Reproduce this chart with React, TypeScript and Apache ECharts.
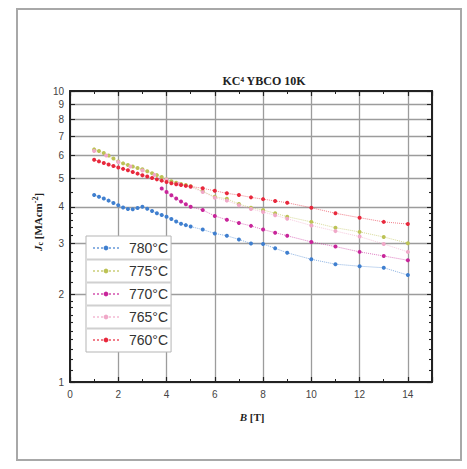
import React, { useEffect, useRef } from "react";
import * as echarts from "echarts";

// ---- data ----
const seriesNames = ["780°C", "775°C", "770°C", "765°C", "760°C"];
const seriesColors = ["#3f7fcf", "#bcc255", "#c8259a", "#f0a8c8", "#e8283c"];

const B780 = [1.0, 1.2, 1.4, 1.6, 1.8, 2.0, 2.2, 2.4, 2.6, 2.8, 3.0, 3.2, 3.4, 3.6, 3.8, 4.0, 4.2, 4.4, 4.6, 4.8, 5.0, 5.5, 6, 6.5, 7, 7.5, 8, 8.5, 9, 10, 11, 12, 13, 14];
const J780 = [4.39, 4.33, 4.27, 4.2, 4.12, 4.05, 3.98, 3.93, 3.92, 3.96, 4.0, 3.94, 3.87, 3.8, 3.75, 3.7, 3.63, 3.56, 3.5, 3.46, 3.42, 3.34, 3.24, 3.18, 3.09, 2.99, 2.98, 2.88, 2.78, 2.64, 2.54, 2.5, 2.47, 2.33];

const B775 = [1.0, 1.2, 1.4, 1.6, 1.8, 2.0, 2.2, 2.4, 2.6, 2.8, 3.0, 3.2, 3.4, 3.6, 3.8, 4.0, 4.2, 4.4, 4.6, 4.8, 5.0, 5.5, 6, 6.5, 7, 7.5, 8, 8.5, 9, 10, 11, 12, 13, 14];
const J775 = [6.3, 6.22, 6.12, 6.0, 5.86, 5.72, 5.64, 5.57, 5.5, 5.44, 5.38, 5.3, 5.22, 5.14, 5.06, 4.97, 4.9, 4.84, 4.79, 4.75, 4.71, 4.52, 4.33, 4.26, 4.09, 3.97, 3.9, 3.8, 3.7, 3.55, 3.39, 3.28, 3.15, 3.0];

const B770 = [3.8, 4.0, 4.2, 4.4, 4.6, 4.8, 5.0, 5.5, 6, 6.5, 7, 7.5, 8, 8.5, 9, 10, 11, 12, 13, 14];
const J770 = [4.62, 4.5, 4.38, 4.27, 4.17, 4.08, 4.0, 3.9, 3.72, 3.61, 3.52, 3.44, 3.34, 3.26, 3.18, 3.03, 2.92, 2.8, 2.71, 2.62];

const B765 = [1.0, 1.5, 2.0, 2.5, 3.0, 3.5, 4.0, 4.5, 5.0, 5.5, 6, 6.5, 7, 7.5, 8, 8.5, 9, 10, 11, 12, 13, 14];
const J765 = [6.22, 6.0, 5.7, 5.5, 5.33, 5.15, 4.96, 4.8, 4.68, 4.5, 4.3, 4.2, 4.05, 3.93, 3.84, 3.74, 3.64, 3.45, 3.3, 3.16, 2.98, 2.8];

const B760 = [1.0, 1.2, 1.4, 1.6, 1.8, 2.0, 2.2, 2.4, 2.6, 2.8, 3.0, 3.2, 3.4, 3.6, 3.8, 4.0, 4.2, 4.4, 4.6, 4.8, 5.0, 5.5, 6, 6.5, 7, 7.5, 8, 8.5, 9, 10, 11, 12, 13, 14];
const J760 = [5.8, 5.73, 5.66, 5.59, 5.52, 5.46, 5.4, 5.34, 5.27, 5.2, 5.13, 5.08, 5.02, 4.97, 4.92, 4.87, 4.82, 4.78, 4.75, 4.72, 4.7, 4.63, 4.54, 4.45, 4.39, 4.31, 4.25, 4.19, 4.13, 3.97, 3.8, 3.67, 3.55, 3.49];

const allB = [B780, B775, B770, B765, B760];
const allJ = [J780, J775, J770, J765, J760];

const yMajorTicks = [1, 2, 3, 4, 5, 6, 7, 8, 9, 10];
const yMinorTicks = [1.1, 1.2, 1.3, 1.4, 1.5, 1.6, 1.7, 1.8, 1.9, 2.2, 2.4, 2.6, 2.8, 3.2, 3.4, 3.6, 3.8, 4.5];

const GRID = { left: 70, top: 91, right: 35, bottom: 87 };

export default function App() {
  const ref = useRef<HTMLDivElement>(null);
  useEffect(() => {
    if (!ref.current) return;
    const chart = echarts.init(ref.current, undefined, { renderer: "svg" });
    const axisLine = { show: true, lineStyle: { color: "#222", width: 2 } };
    const tickLbl = { color: "#444", fontSize: 10, fontFamily: "Liberation Sans, Arial, sans-serif" };
    const xBase = (pos: string, labels: boolean, split: boolean) => ({
      type: "value",
      position: pos,
      min: 0,
      max: 15,
      interval: 2,
      axisLine,
      axisTick: { show: true, inside: true, length: 5, lineStyle: { color: "#222", width: 1.2 } },
      minorTick: { show: true, splitNumber: 2, length: 3, lineStyle: { color: "#222", width: 1 } },
      minorSplitLine: { show: false },
      splitLine: { show: split, lineStyle: { color: "#9c9c9c", width: 1.3 } },
      axisLabel: {
        show: labels,
        margin: 7,
        ...tickLbl,
        formatter: (v: number) => (v % 2 === 0 ? String(v) : ""),
      },
    });
    const yBase = (pos: string, custom: number[], labels: boolean, split: boolean, len: number, line: boolean) => ({
      type: "log",
      logBase: 10,
      position: pos,
      min: 1,
      max: 10,
      axisLine: line ? axisLine : { show: false },
      axisTick: { show: true, inside: true, length: len, customValues: custom, lineStyle: { color: "#222", width: 1.1 } },
      minorTick: { show: false },
      splitLine: { show: split, lineStyle: { color: "#9c9c9c", width: 1.3 } },
      axisLabel: { show: labels, margin: 6, customValues: yMajorTicks, ...tickLbl },
    });

    const series = seriesNames.map((name, i) => ({
      name,
      type: "line",
      xAxisIndex: 0,
      yAxisIndex: 0,
      data: allB[i].map((b, k) => [b, allJ[i][k]]),
      symbol: "circle",
      symbolSize: 4,
      itemStyle: { color: seriesColors[i] },
      lineStyle: { color: seriesColors[i], width: 1, type: "dotted", opacity: 0.6 },
      z: 3,
    }));

    chart.setOption({
      animation: false,
      backgroundColor: "#fff",
      grid: { ...GRID, containLabel: false },
      title: {
        text: "KC⁴ YBCO 10K",
        left: 259,
        textAlign: "center",
        top: 70,
        textStyle: { fontFamily: "Liberation Serif, Times New Roman, serif", fontWeight: "bold", fontSize: 12, color: "#222" },
      },
      legend: {
        orient: "vertical",
        left: 86,
        top: 236,
        padding: [5, 3, 5, 6],
        itemGap: 9,
        itemWidth: 26,
        itemHeight: 6,
        backgroundColor: "#fff",
        borderColor: "#b5b5b5",
        borderWidth: 1,
        textStyle: { fontSize: 14, color: "#333", fontFamily: "Liberation Sans, Arial, sans-serif", padding: [0, 0, 0, 5] },
        data: seriesNames,
      },
      xAxis: [xBase("bottom", true, true), xBase("top", false, false)],
      yAxis: [
        yBase("left", yMajorTicks, true, true, 5, true),
        yBase("left", yMinorTicks, false, false, 3, false),
        yBase("right", yMajorTicks, false, false, 5, true),
        yBase("right", yMinorTicks, false, false, 3, false),
      ],
      series,
      graphic: [
        {
          type: "rect",
          shape: { x: 17, y: 9, width: 444, height: 451 },
          style: { fill: "none", stroke: "#a8a8a8", lineWidth: 2 },
          silent: true,
          z: -1,
        },
        ...[259.5, 282.5, 305.5, 328.5].map((y) => ({
          type: "line",
          shape: { x1: 87, y1: y, x2: 171, y2: y },
          style: { stroke: "#d0d0d0", lineWidth: 2 },
          silent: true,
          z: 200,
        })),
        {
          type: "text",
          x: 38,
          y: 222,
          rotation: Math.PI / 2,
          style: {
            text: "{i|J}{s|c} [MAcm{p|-2}]",
            align: "center",
            verticalAlign: "middle",
            fill: "#222",
            font: "bold 11px Liberation Serif, serif",
            rich: {
              i: { fontStyle: "italic", fontWeight: "bold", fontSize: 11, fontFamily: "Liberation Serif, serif", fill: "#222" },
              s: { fontWeight: "bold", fontSize: 8, fontFamily: "Liberation Serif, serif", verticalAlign: "bottom", padding: [5, 0, 0, 0], fill: "#222" },
              p: { fontWeight: "bold", fontSize: 8, fontFamily: "Liberation Serif, serif", verticalAlign: "top", padding: [0, 0, 5, 0], fill: "#222" },
            },
          },
        },
        {
          type: "text",
          x: 252,
          y: 417,
          style: {
            text: "{i|B} [T]",
            align: "center",
            verticalAlign: "middle",
            fill: "#222",
            font: "bold 11px Liberation Serif, serif",
            rich: {
              i: { fontStyle: "italic", fontWeight: "bold", fontSize: 11, fontFamily: "Liberation Serif, serif", fill: "#222" },
            },
          },
        },
      ],
    });
    return () => chart.dispose();
  }, []);
  return <div ref={ref} style={{ position: "fixed", left: 0, top: 0, width: 467, height: 469 }} />;
}
